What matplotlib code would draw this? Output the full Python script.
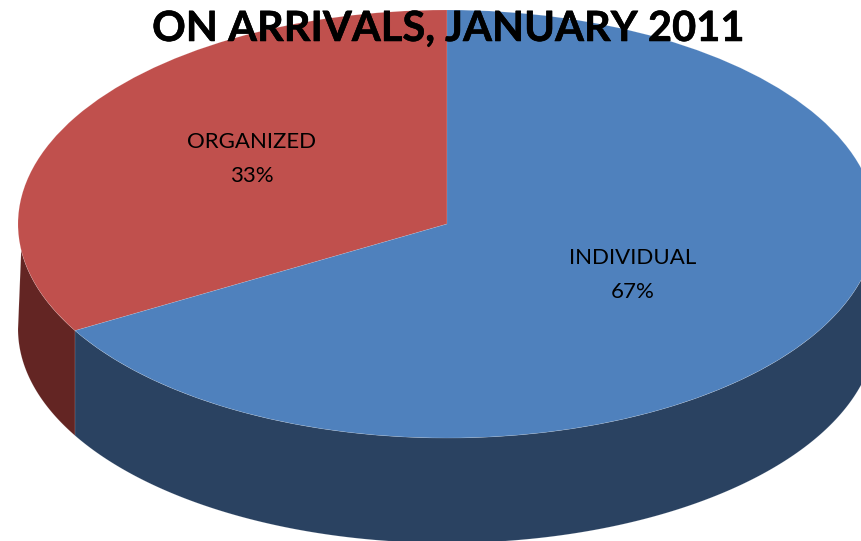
import matplotlib
matplotlib.use("Agg")
import matplotlib.pyplot as plt
import matplotlib.patheffects as pe
from matplotlib.patches import Polygon
import numpy as np

title = "ON ARRIVALS, JANUARY 2011"
categories = ["ORGANIZED", "INDIVIDUAL"]
shares = [33.3, 66.7]
top_colors = ["#C0504D", "#4F81BD"]
side_colors = ["#632523", "#2A4261"]

W, H = 861, 541
# pie centre and radii in pixels, the pie is squashed to look tilted
CX, CY, RX, RY = 447, 224, 429, 214
DEPTH = 105 / RY
RIM = (1, 1, 1, 0.18)


def main():
    fig = plt.figure(figsize=(W / 100, H / 100), dpi=100)
    ax = fig.add_axes([0, 0, 1, 1])

    wedges, _ = ax.pie(shares, colors=top_colors, startangle=90, counterclock=True, radius=1,
                       wedgeprops={"linewidth": 0.4, "edgecolor": RIM}, normalize=True)
    for w in wedges:
        w.set_zorder(3)

    # side wall of the slices, only the front half of the rim shows
    edges = 90 + np.cumsum([0] + shares) / np.sum(shares) * 360
    for i in range(len(shares)):
        a = max(edges[i], 180)
        b = min(edges[i + 1], 360)
        # the wall leaves the top rim a little below its widest point
        t_top = np.radians(np.linspace(max(a, 187), b, 300))
        t_bot = np.radians(np.linspace(a, b, 300))
        x = np.r_[np.cos(t_top), np.cos(t_bot)[::-1]]
        y = np.r_[np.sin(t_top), np.sin(t_bot)[::-1] - DEPTH]
        ax.add_patch(Polygon(np.column_stack([x, y]), closed=True, facecolor=side_colors[i],
                             edgecolor=RIM, linewidth=0.4, zorder=2))

    # pie() sets an equal aspect, undo it so one unit is RX wide and RY high
    ax.set_aspect("auto")
    ax.set_xlim(-CX / RX, (W - CX) / RX)
    ax.set_ylim((CY - H) / RY, CY / RY)
    ax.axis("off")

    def label(px, py, name, share):
        ax.text((px - CX) / RX, (CY - py) / RY, f"{name}\n{share:.0f}%", ha="center", va="baseline",
                fontsize=16, family="Lato", fontweight="normal", color="black", linespacing=1.88,
                zorder=5)

    label(252, 182, categories[0], shares[0])
    label(633, 298, categories[1], shares[1])

    fig.text(448 / W, 1 - 41 / H, title, ha="center", va="baseline", fontsize=30, fontweight="bold",
             family="Lato", color="black", zorder=6,
             path_effects=[pe.withStroke(linewidth=0.4, foreground="black")])

    fig.savefig("out.png", dpi=100)


if __name__ == "__main__":
    main()
